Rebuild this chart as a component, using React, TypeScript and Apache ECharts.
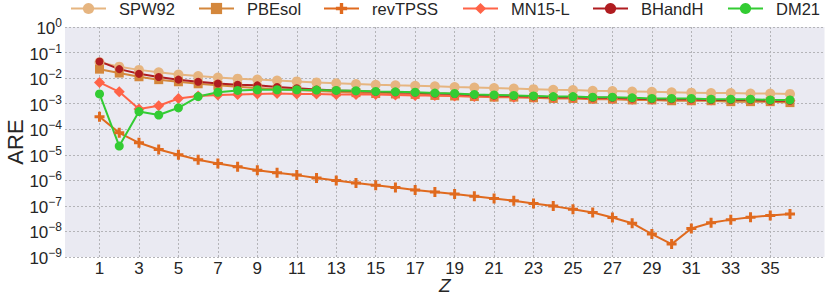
import React, { useEffect, useRef } from "react";
import * as echarts from "echarts";

const Z = [1,2,3,4,5,6,7,8,9,10,11,12,13,14,15,16,17,18,19,20,21,22,23,24,25,26,27,28,29,30,31,32,33,34,35,36];
const xTicks = [1,3,5,7,9,11,13,15,17,19,21,23,25,27,29,31,33,35];

const SPW92 = [0.042,0.028,0.021,0.017,0.0139,0.012,0.0105,0.0095,0.0088,0.0080,0.0074,0.0068,0.0063,0.0059,0.0055,0.0052,0.0050,0.0048,0.0045,0.0043,0.0041,0.0039,0.0037,0.0035,0.0034,0.0032,0.0031,0.0030,0.0029,0.0028,0.0027,0.0026,0.0026,0.0025,0.0025,0.0024];
const PBEsol = [0.0224,0.0158,0.0113,0.0087,0.0072,0.006,0.0052,0.0046,0.0041,0.0037,0.0034,0.0031,0.0029,0.0027,0.0025,0.0024,0.0023,0.0021,0.0020,0.0019,0.0018,0.0018,0.0017,0.0016,0.0016,0.0015,0.0015,0.0014,0.0014,0.0013,0.0013,0.0013,0.0012,0.0012,0.0012,0.0011];
const revTPSS = [3.1e-4,7.2e-5,2.95e-5,1.6e-5,1.0e-5,6.4e-6,4.6e-6,3.4e-6,2.5e-6,2.0e-6,1.6e-6,1.23e-6,9.8e-7,7.9e-7,6.4e-7,5.2e-7,4.2e-7,3.5e-7,2.9e-7,2.4e-7,1.95e-7,1.58e-7,1.24e-7,9.8e-8,7.4e-8,5.5e-8,3.5e-8,2.1e-8,7.9e-9,3.2e-9,1.3e-8,2.2e-8,2.9e-8,3.6e-8,4.2e-8,4.8e-8];
const MN15L = [0.0068,0.0029,6.2e-4,8.3e-4,0.0016,0.0020,0.0022,0.0023,0.0024,0.0025,0.0024,0.0024,0.0023,0.0023,0.0023,0.0022,0.0021,0.0021,0.0020,0.0019,0.0019,0.0018,0.0018,0.0017,0.0017,0.0016,0.0016,0.0015,0.0015,0.0015,0.0014,0.0014,0.0014,0.0014,0.0013,0.0013];
const BHandH = [0.045,0.0225,0.0147,0.011,0.0087,0.0072,0.0062,0.0055,0.0052,0.0045,0.0040,0.0036,0.0033,0.0031,0.0029,0.0028,0.0027,0.0025,0.0024,0.0022,0.0021,0.0020,0.0019,0.0018,0.0018,0.0017,0.0017,0.0016,0.0015,0.0015,0.0015,0.0014,0.0014,0.0014,0.0013,0.0013];
const DM21 = [0.0024,2.2e-5,4.9e-4,3.6e-4,6.9e-4,0.0019,0.0028,0.0033,0.0035,0.0035,0.0035,0.0034,0.0033,0.0032,0.0030,0.0029,0.0028,0.0026,0.0025,0.0023,0.0022,0.0021,0.0020,0.0019,0.0019,0.0018,0.0018,0.0017,0.0016,0.0016,0.0016,0.0015,0.0015,0.0015,0.0014,0.0014];

const FONT = "'Liberation Sans', Arial, sans-serif";
const TXT = "#262626";
const PLUS = "path://M3.5,0H6.5V3.5H10V6.5H6.5V10H3.5V6.5H0V3.5H3.5Z";

const seriesDefs = [
  { name: "SPW92", data: SPW92, color: "#e6b580", symbol: "circle", size: 10 },
  { name: "PBEsol", data: PBEsol, color: "#d4873c", symbol: "rect", size: 9 },
  { name: "revTPSS", data: revTPSS, color: "#e06a1e", symbol: PLUS, size: 10 },
  { name: "MN15-L", data: MN15L, color: "#ff6347", symbol: "diamond", size: 11 },
  { name: "BHandH", data: BHandH, color: "#b01c20", symbol: "circle", size: 8 },
  { name: "DM21", data: DM21, color: "#33cc33", symbol: "circle", size: 9 },
];
const legendLeft = [70, 198, 323, 462, 592, 727];

export default function App() {
  const ref = useRef<HTMLDivElement>(null);
  useEffect(() => {
    const chart = echarts.init(ref.current!, null, { renderer: "svg" });
    chart.setOption({
      animation: false,
      textStyle: { fontFamily: FONT },
      legend: seriesDefs.map((s, i) => ({
        data: [s.name],
        left: legendLeft[i],
        top: 0,
        padding: 0,
        itemWidth: 35,
        itemHeight: 14,
        textStyle: { fontSize: 16.5, color: TXT, fontFamily: FONT, padding: [0, 0, 0, 8] },
      })),
      grid: {
        left: 65, right: 5.5, top: 27, bottom: 38,
        show: true, backgroundColor: "#eaeaf2", borderWidth: 0,
        outerBoundsMode: "none",
        containLabel: false,
      },
      xAxis: {
        type: "value",
        min: -0.75, max: 37.75,
        name: "Z",
        nameLocation: "middle",
        nameGap: 21,
        nameMoveOverlap: false,
        nameTextStyle: { fontSize: 19, lineHeight: 15, fontStyle: "italic", color: TXT, fontFamily: FONT },
        axisLine: { show: false },
        axisTick: { show: false, customValues: xTicks },
        axisLabel: { customValues: xTicks, fontSize: 17, color: TXT, margin: 3, fontFamily: FONT },
        splitLine: { show: true, lineStyle: { color: "#b4b4b8", type: [2, 2], width: 1 } },
      },
      yAxis: {
        type: "log",
        logBase: 10,
        min: 1e-9, max: 1,
        interval: 1,
        name: "ARE",
        nameLocation: "middle",
        nameGap: 39,
        nameMoveOverlap: false,
        nameTextStyle: { fontSize: 22, color: TXT, fontFamily: FONT },
        axisLine: { show: false },
        axisTick: { show: false },
        axisLabel: {
          margin: 3,
          formatter: (v: number) => {
            const e = Math.round(Math.log10(v));
            return "{b|10}{s|" + (e < 0 ? "\u2212" + -e : String(e)) + "}";
          },
          rich: {
            b: { fontSize: 17, color: TXT, fontFamily: FONT, verticalAlign: "bottom" },
            s: { fontSize: 12, color: TXT, fontFamily: FONT, verticalAlign: "top", padding: [0, 0, 8, 0] },
          },
        },
        splitLine: { show: true, lineStyle: { color: "#b4b4b8", type: [2, 2], width: 1 } },
      },
      series: seriesDefs.map((s) => ({
        name: s.name,
        type: "line",
        data: Z.map((z, i) => [z, s.data[i]]),
        symbol: s.symbol,
        symbolSize: s.size,
        showSymbol: true,
        color: s.color,
        lineStyle: { width: 2, color: s.color },
        itemStyle: { color: s.color },
      })),
    });
    return () => chart.dispose();
  }, []);
  return <div ref={ref} style={{ position: "absolute", left: 0, top: 0, width: 830, height: 295 }} />;
}
